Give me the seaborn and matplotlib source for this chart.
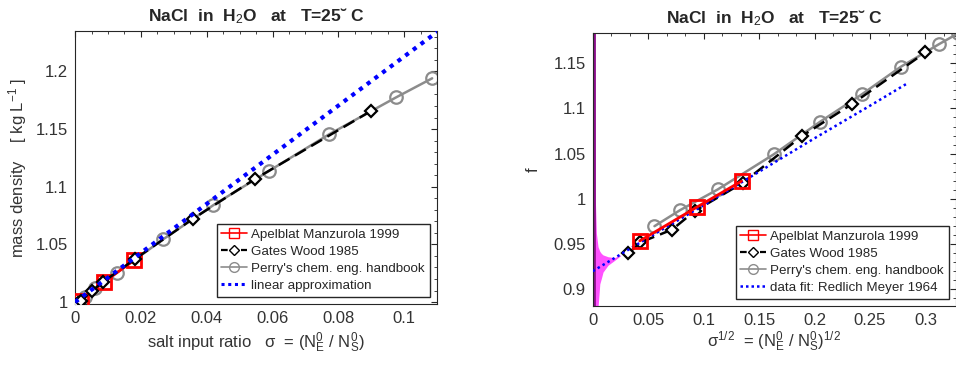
import numpy as np
import pandas as pd
import matplotlib
matplotlib.use("Agg")
import matplotlib.pyplot as plt
import seaborn as sns
from matplotlib.lines import Line2D
from matplotlib.ticker import AutoMinorLocator, MultipleLocator

# ---------------- data ----------------
apel_sigma = [0.0018, 0.0089, 0.0180]
apel_rho = [1.0012, 1.0176, 1.0364]
apel_f = [0.9535, 0.9912, 1.0196]

gates_sigma = [0.00103, 0.00184, 0.00514, 0.0085, 0.0183, 0.0357, 0.0546, 0.0900]
gates_rho = [0.9990, 1.0013, 1.0097, 1.0174, 1.0375, 1.0720, 1.1066, 1.1658]
gates_f = [0.9396, 0.9518, 0.9661, 0.9867, 1.0177, 1.0697, 1.1048, 1.1620]

perry_sigma = [0.0031, 0.0062, 0.0127, 0.0267, 0.0420, 0.0590, 0.0771, 0.0975, 0.1085]
perry_rho = [1.0040, 1.0120, 1.0254, 1.0543, 1.0840, 1.1138, 1.1453, 1.1774, 1.1940]
perry_f = [0.9698, 0.9875, 1.0104, 1.0494, 1.0852, 1.1158, 1.1460, 1.1711, 1.1830]

lin_sigma = [0.0, 0.11]
lin_rho = [1.0, 1.2342]

fit_sqrt = [0.0, 0.05, 0.10, 0.15, 0.20, 0.25, 0.284]
fit_f = [0.920, 0.957, 0.993, 1.030, 1.067, 1.103, 1.128]

band_sqrt = [0.0012, 0.0018, 0.0024, 0.0033, 0.0048, 0.0064, 0.0078, 0.0093, 0.0138, 0.0198, 0.025]
band_upper = [1.19, 1.19, 0.998, 0.962, 0.947, 0.942, 0.9396, 0.938, 0.936, 0.935, 0.938]
band_lower = [0.87, 0.87, 0.87, 0.87, 0.88, 0.906, 0.912, 0.919, 0.9266, 0.932, 0.937]

center_sqrt = [0.0012, 0.0012]
center_f = [0.87, 1.19]

labels = ["Apelblat Manzurola 1999", "Gates Wood 1985",
          "Perry's chem. eng. handbook"]
title = "NaCl  in  H$_2$O   at   T=25˘ C"

# ---------------- style ----------------
sns.set_style("white")
plt.rcParams["font.family"] = ["Liberation Sans", "DejaVu Sans"]
plt.rcParams.update({
    "xtick.direction": "in", "ytick.direction": "in",
    "xtick.top": True, "ytick.right": True,
    "xtick.minor.visible": True, "ytick.minor.visible": True,
    "xtick.major.size": 4, "ytick.major.size": 4,
    "xtick.minor.size": 2, "ytick.minor.size": 2,
    "xtick.color": "#262626", "ytick.color": "#262626",
    "axes.edgecolor": "#262626", "axes.linewidth": 0.8,
    "mathtext.fontset": "custom", "mathtext.rm": "Liberation Sans",
    "mathtext.it": "Liberation Sans", "mathtext.bf": "Liberation Sans:bold",
})

fig = plt.figure(figsize=(9.56, 3.65), dpi=100)
ax1 = fig.add_axes([0.0785, 0.167, 0.3787, 0.748])
ax2 = fig.add_axes([0.620, 0.1616, 0.380, 0.747])

red_kw = dict(color="red", lw=2, marker="s", ms=10, mfc="none", mec="red", mew=2)
blk_kw = dict(color="black", lw=1.8, linestyle=(0, (5, 2.5)), marker="D", ms=6.5,
              mfc="white", mec="black", mew=1.6)
gry_kw = dict(color="#8c8c8c", lw=1.8, marker="o", ms=9, mfc="none", mec="#8c8c8c", mew=1.6)


def legend_handles(last_label):
    hs = [
        Line2D([], [], color="red", lw=1.2, marker="s", ms=7, mfc="none", mec="red", mew=1.0),
        Line2D([], [], color="black", lw=1.6, linestyle=(0, (3, 1.5)), marker="D", ms=5.5,
               mfc="white", mec="black", mew=1.0),
        Line2D([], [], color="#8c8c8c", lw=1.2, marker="o", ms=7, mfc="none",
               mec="#8c8c8c", mew=1.0),
        Line2D([], [], color="blue", lw=2.2 if last_label.startswith("linear") else 1.8,
               linestyle=(0, (1, 1.2))),
    ]
    return hs, labels + [last_label]


def style_legend(ax, last_label):
    hs, ls = legend_handles(last_label)
    ax.legend(hs, ls, loc="lower right", fontsize=9.6, frameon=True, fancybox=False,
              edgecolor="#262626", framealpha=1, borderaxespad=0.55, handlelength=1.9,
              handletextpad=0.35, labelspacing=0.35, borderpad=0.35)


# ---------------- left panel ----------------
sns.lineplot(x=perry_sigma, y=perry_rho, ax=ax1, sort=False, estimator=None,
             zorder=2, **gry_kw)
sns.lineplot(x=apel_sigma, y=apel_rho, ax=ax1, sort=False, estimator=None,
             zorder=3, **red_kw)
sns.lineplot(x=gates_sigma, y=gates_rho, ax=ax1, sort=False, estimator=None,
             zorder=4, **blk_kw)
sns.lineplot(x=lin_sigma, y=lin_rho, ax=ax1, sort=False, estimator=None,
             color="blue", lw=3, linestyle=(0, (1, 1.3)), zorder=5)

ax1.set_xlim(0, 0.11)
ax1.set_ylim(0.9983, 1.235)
ax1.set_xticks([0, 0.02, 0.04, 0.06, 0.08, 0.1])
ax1.set_xticklabels(["0", "0.02", "0.04", "0.06", "0.08", "0.1"])
ax1.xaxis.set_minor_locator(AutoMinorLocator(4))
ax1.set_yticks([1, 1.05, 1.1, 1.15, 1.2])
ax1.set_yticklabels(["1", "1.05", "1.1", "1.15", "1.2"])
ax1.yaxis.set_minor_locator(AutoMinorLocator(5))
ax1.tick_params(labelsize=12, pad=5, labelcolor="#333333")
ax1.set_title(title, fontsize=12.5, fontweight="bold", pad=7)
ax1.set_xlabel("salt input ratio   σ  = (N$^0_E$ / N$^0_S$)", fontsize=12,
               color="#333333", labelpad=3)
ax1.set_ylabel("mass density    [ kg L$^{-1}$ ]", fontsize=12, color="#333333",
               labelpad=5)
style_legend(ax1, "linear approximation")

# ---------------- right panel ----------------
ax2.fill_between(band_sqrt, band_lower, band_upper, color="#ff33ff", alpha=0.85,
                 lw=0, zorder=1)
sns.lineplot(x=center_sqrt, y=center_f, ax=ax2, sort=False, estimator=None,
             color="#8b108b", lw=2, zorder=1.5)
sns.lineplot(x=np.sqrt(perry_sigma), y=perry_f, ax=ax2, sort=False, estimator=None,
             zorder=2, **gry_kw)
sns.lineplot(x=np.sqrt(gates_sigma), y=gates_f, ax=ax2, sort=False, estimator=None,
             zorder=3, **blk_kw)
sns.lineplot(x=fit_sqrt, y=fit_f, ax=ax2, sort=False, estimator=None,
             color="blue", lw=1.8, linestyle=(0, (1, 1.3)), zorder=3.5)
sns.lineplot(x=np.sqrt(apel_sigma), y=apel_f, ax=ax2, sort=False, estimator=None,
             zorder=4, **red_kw)

ax2.set_xlim(0, 0.3275)
ax2.set_ylim(0.8815, 1.183)
ax2.set_xticks([0, 0.05, 0.1, 0.15, 0.2, 0.25, 0.3])
ax2.set_xticklabels(["0", "0.05", "0.1", "0.15", "0.2", "0.25", "0.3"])
ax2.xaxis.set_minor_locator(AutoMinorLocator(3))
ax2.set_yticks([0.9, 0.95, 1, 1.05, 1.1, 1.15])
ax2.set_yticklabels(["0.9", "0.95", "1", "1.05", "1.1", "1.15"])
ax2.yaxis.set_minor_locator(AutoMinorLocator(5))
ax2.tick_params(labelsize=12, pad=5, labelcolor="#333333")
ax2.set_title(title, fontsize=12.5, fontweight="bold", pad=7)
ax2.set_xlabel("σ$^{1/2}$  = (N$^0_E$ / N$^0_S$)$^{1/2}$", fontsize=12,
               color="#333333", labelpad=1)
ax2.set_ylabel("f", fontsize=12, color="#333333", labelpad=9)
style_legend(ax2, "data fit: Redlich Meyer 1964")

for ax in (ax1, ax2):
    for s in ax.spines.values():
        s.set_visible(True)

fig.savefig("out.png", dpi=100)
